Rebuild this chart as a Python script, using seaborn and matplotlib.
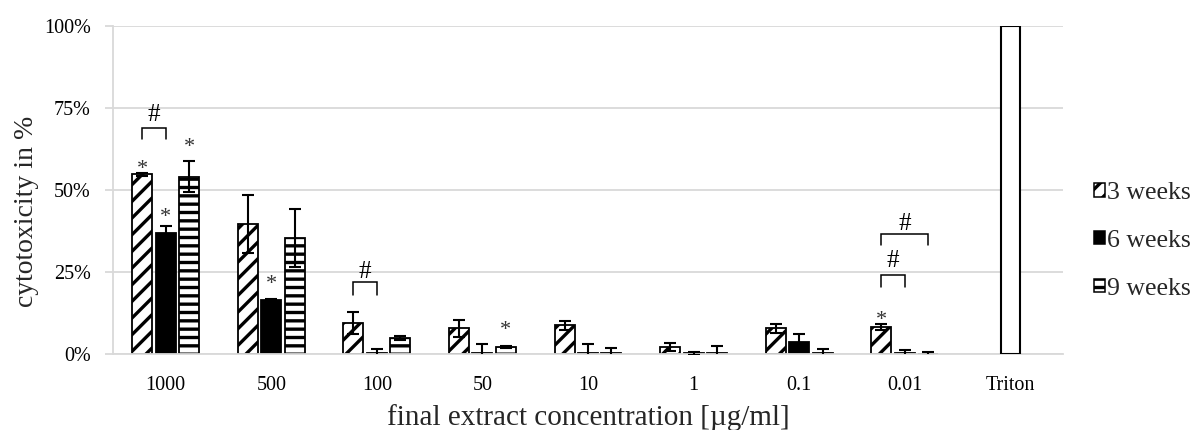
import matplotlib
matplotlib.use("Agg")
import matplotlib.pyplot as plt
import matplotlib.patches as mpatches
from matplotlib.ticker import FuncFormatter
import numpy as np
import pandas as pd
import seaborn as sns

# Extract concentrations in µg/ml, plus the Triton positive control
categories = ["1000", "500", "100", "50", "10", "1", "0.1", "0.01", "Triton"]
series = ["3 weeks", "6 weeks", "9 weeks"]

# Mean cytotoxicity (%) and error per incubation time (no extract data for Triton)
weeks3 = [54.8, 39.6, 9.4, 7.8, 8.8, 2.2, 7.8, 8.2]
weeks3_err = [0.5, 8.8, 3.4, 2.6, 1.4, 1.2, 1.3, 0.9]
weeks6 = [36.9, 16.4, 0.3, 0.3, 0.2, 0.2, 3.8, 0.2]
weeks6_err = [2.0, 0.5, 1.1, 2.9, 3.0, 0.5, 2.3, 1.0]
weeks9 = [54.0, 35.4, 5.0, 2.2, 0.3, 0.3, 0.2, 0.1]
weeks9_err = [4.7, 8.9, 0.6, 0.3, 1.4, 2.2, 1.3, 0.6]
triton = 100.0

# Significance markers "*": (category, series index, height in %)
stars = [("1000", 0, 57.6), ("1000", 1, 42.9), ("1000", 2, 64.2),
         ("500", 1, 22.6), ("50", 2, 8.5), ("0.01", 0, 11.7)]
# "#" brackets: (category, first series, second series, top %, leg end %, label %)
brackets = [("1000", 0, 1, 69.0, 65.5, 73.7), ("100", 0, 1, 21.9, 18.0, 25.8),
            ("0.01", 0, 1, 24.1, 20.5, 29.2), ("0.01", 0, 2, 36.5, 33.2, 40.3)]

rows = []
for name, vals, errs in zip(series, [weeks3, weeks6, weeks9],
                            [weeks3_err, weeks6_err, weeks9_err]):
    for cat, v, e in zip(categories[:-1], vals, errs):
        rows.append({"conc": cat, "series": name, "value": v, "err": e})
df = pd.DataFrame(rows)

sns.set_theme(style="white")
plt.rcParams["font.family"] = ["Liberation Serif", "DejaVu Serif"]
plt.rcParams["hatch.linewidth"] = 2.4

fig = plt.figure(figsize=(11.97, 4.30), dpi=100)
ax = fig.add_axes([113 / 1197, 1 - 354 / 430, (1063 - 113) / 1197, (354 - 26) / 430])

sns.barplot(data=df, x="conc", y="value", hue="series", order=categories,
            hue_order=series, errorbar=None, width=0.666, gap=0.15,
            edgecolor="black", linewidth=1.3, legend=False, ax=ax)

styles = [dict(facecolor="white", hatch="//"),
          dict(facecolor="black", hatch=None),
          dict(facecolor="white", hatch="--")]
bar_containers = list(ax.containers)
centers = {}
for j, cont in enumerate(bar_containers):
    xs = []
    for p in cont.patches:
        p.set_facecolor(styles[j]["facecolor"])
        if styles[j]["hatch"]:
            p.set_hatch(styles[j]["hatch"])
        p.set_edgecolor("black")
        xs.append(p.get_x() + p.get_width() / 2)
    xs = np.array(xs)
    centers[j] = xs
    vals = df[df["series"] == series[j]]["value"].to_numpy()
    errs = df[df["series"] == series[j]]["err"].to_numpy()
    ax.errorbar(xs, vals, yerr=errs, fmt="none", ecolor="black",
                elinewidth=1.5, capsize=4.6, capthick=1.5, zorder=5)

# Triton positive control bar
ax.bar(categories.index("Triton"), triton, width=0.18, color="white",
       edgecolor="black", linewidth=1.5, zorder=3)


def xpos(cat, j):
    return centers[j][categories.index(cat)]


STAR_FS = 16
HASH_FS = 18
for cat, j, y in stars:
    ax.annotate("*", (xpos(cat, j), y), xytext=(0, -0.4 * STAR_FS),
                textcoords="offset points", ha="center", va="baseline",
                fontsize=STAR_FS, color="#333333")

for cat, a, b, top, leg, ylab in brackets:
    x0, x1 = xpos(cat, a), xpos(cat, b)
    ax.plot([x0, x0, x1, x1], [leg, top, top, leg], color="black", lw=1.1,
            solid_joinstyle="miter", zorder=6)
    ax.annotate("#", ((x0 + x1) / 2, ylab), xytext=(0, -0.34 * HASH_FS),
                textcoords="offset points", ha="center", va="baseline",
                fontsize=HASH_FS, color="black")

ax.set_ylim(0, 100)
ax.set_xlim(-0.5, len(categories) - 0.5)
ax.set_yticks([0, 25, 50, 75, 100])
ax.yaxis.set_major_formatter(FuncFormatter(lambda v, _: f"{v:.0f}%"))
ax.yaxis.grid(True, color="#d9d9d9", lw=1.3)
ax.set_axisbelow(True)
for side in ["top", "right"]:
    ax.spines[side].set_visible(False)
for side in ["left", "bottom"]:
    ax.spines[side].set_color("#d9d9d9")
    ax.spines[side].set_linewidth(1.3)
ax.tick_params(axis="y", left=True, length=6, width=1.3, color="#d9d9d9",
               pad=10, labelsize=14.5, labelcolor="black")
ax.tick_params(axis="x", bottom=False, pad=10, labelsize=14.5,
               labelcolor="black")

ax.set_xlabel("final extract concentration [µg/ml]", fontsize=21)
ax.set_ylabel("cytotoxicity in %", fontsize=20)
ax.xaxis.set_label_coords(0.5, -0.152)
ax.yaxis.set_label_coords(-0.078, 0.436)

handles = [mpatches.Patch(facecolor=s["facecolor"], edgecolor="black",
                          hatch=s["hatch"], linewidth=1.1) for s in styles]
fig.legend(handles, series, loc="center left",
           bbox_to_anchor=(1094 / 1197, 1 - 241 / 430), frameon=False,
           fontsize=18.5, handlelength=0.42, handleheight=0.42,
           handletextpad=0.1, labelspacing=1.0, borderaxespad=0,
           borderpad=0)

fig.savefig("out.png", dpi=100)
